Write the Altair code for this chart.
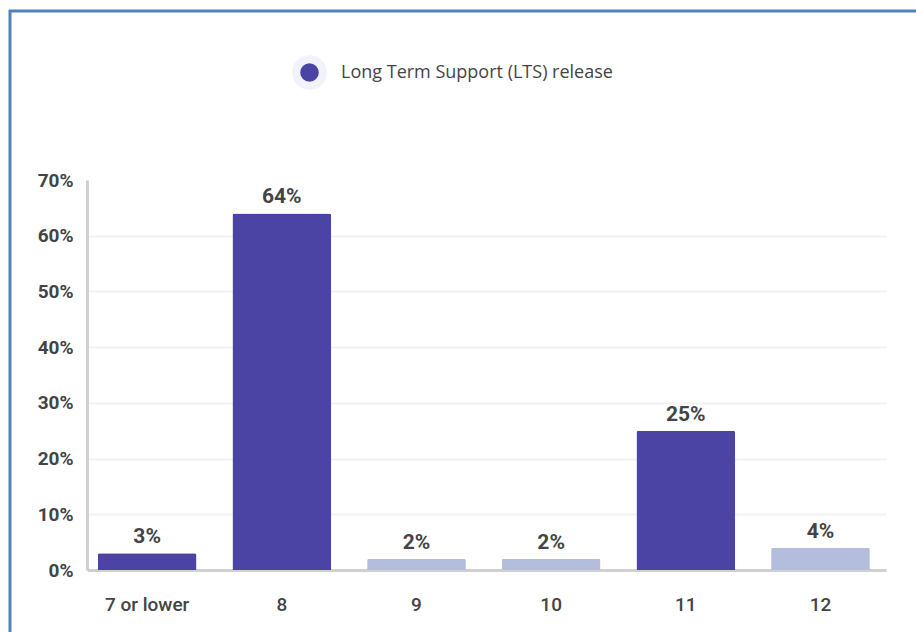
import altair as alt
import pandas as pd

# Java versions in use, share of respondents
versions = ["7 or lower", "8", "9", "10", "11", "12"]
shares = [0.03, 0.64, 0.02, 0.02, 0.25, 0.04]
is_lts = [True, True, False, False, True, False]

LTS = "Long Term Support (LTS) release"
OTHER = "Other release"

df = pd.DataFrame({
    "version": versions,
    "share": shares,
    "release": [LTS if f else OTHER for f in is_lts],
})

DARK = "#4B44A5"
LIGHT = "#B4BDDB"
TEXT = "#444444"
AXIS_GREY = "#D0D0D0"

W, H = 799, 390
PAD = {"left": 87, "top": 180, "right": 30, "bottom": 62}

x = alt.X(
    "version:N",
    sort=versions,
    scale=alt.Scale(paddingInner=0.267, paddingOuter=0.1, align=0.4),
    axis=alt.Axis(
        title=None, labelAngle=0, ticks=False, domainColor=AXIS_GREY,
        domainWidth=3, labelColor=TEXT, labelFont="Roboto", labelFontSize=19,
        labelFontWeight=500, labelPadding=25,
    ),
)

y = alt.Y(
    "share:Q",
    scale=alt.Scale(domain=[0, 0.7], nice=False),
    axis=alt.Axis(
        title=None, format=".0%", values=[0, 0.1, 0.2, 0.3, 0.4, 0.5, 0.6, 0.7],
        ticks=False, domainColor=AXIS_GREY, domainWidth=3,
        labelColor=TEXT, labelFont="Roboto", labelFontSize=19,
        labelFontWeight="bold", labelPadding=14,
        grid=True, gridColor="#F2F2F2", gridWidth=2,
        gridOpacity=alt.condition("datum.value > 0.65 || datum.value < 0.05",
                                  alt.value(0), alt.value(1)),
    ),
)

bars = alt.Chart(df).mark_bar(
    cornerRadiusTopLeft=2, cornerRadiusTopRight=2
).encode(
    x=x,
    y=y,
    color=alt.Color(
        "release:N",
        scale=alt.Scale(domain=[LTS, OTHER], range=[DARK, LIGHT]),
        legend=alt.Legend(
            title=None, values=[LTS], orient="none", legendX=205, legendY=-125,
            symbolType="circle", symbolSize=707, symbolStrokeColor="#F1F2FB",
            symbolStrokeWidth=8, symbolOpacity=1, labelFont="Open Sans",
            labelFontSize=18, labelFontWeight=500, labelColor=TEXT,
            labelOffset=14, labelLimit=0, padding=0,
        ),
    ),
)

labels = alt.Chart(df).mark_text(
    baseline="alphabetic", dy=-10, font="Roboto", fontSize=21,
    fontWeight="bold", color=TEXT,
).encode(
    x=alt.X("version:N", sort=versions),
    y="share:Q",
    text=alt.Text("share:Q", format=".0%"),
)

# blue frame along the top and left edges
frame_data = alt.Data(values=[{"k": 0}])
frame_left = alt.Chart(frame_data).mark_rule(color="#4F81BD", strokeWidth=3).encode(
    x=alt.value(-77), y=alt.value(-170), y2=alt.value(H + PAD["bottom"])
)
frame_top = alt.Chart(frame_data).mark_rule(color="#4F81BD", strokeWidth=3).encode(
    x=alt.value(-78), x2=alt.value(W + PAD["right"]), y=alt.value(-169)
)

chart = alt.layer(bars, labels, frame_left, frame_top).properties(
    width=W, height=H,
    padding=PAD,
    autosize=alt.AutoSizeParams(type="none"),
    background="white",
).configure_view(stroke=None)

chart.save("out.html", embed_options={"renderer": "svg", "actions": False})
